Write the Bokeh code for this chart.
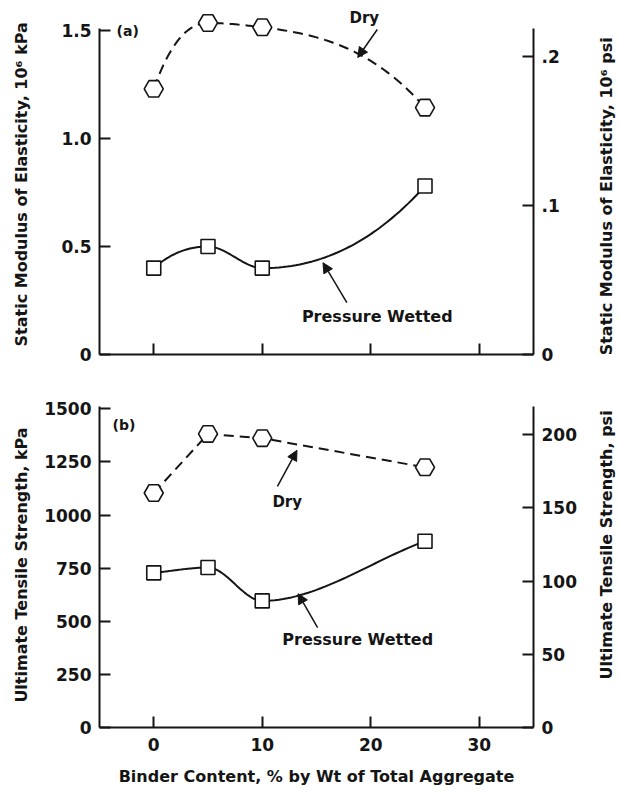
import numpy as np
from bokeh.plotting import figure
from bokeh.models import (Range1d, LinearAxis, FixedTicker, CustomJSTickFormatter,
                          Label, Arrow, NormalHead)
from bokeh.core.properties import value
from bokeh.layouts import column, row
from bokeh.embed import file_html
from bokeh.resources import INLINE

# ---------------- data ----------------
binder = [0, 5, 10, 25]                      # binder content, % by wt
mod_dry = [1.23, 1.535, 1.515, 1.143]        # 10^6 kPa, dry
mod_wet = [0.40, 0.50, 0.40, 0.78]           # 10^6 kPa, pressure wetted
ts_dry = [1104, 1382, 1362, 1225]            # kPa, dry
ts_wet = [728, 753, 596, 877]                # kPa, pressure wetted

x_ticks = [0, 10, 20, 30]
mod_ticks = [0, 0.5, 1.0, 1.5]
mod_psi_ticks = [0, 0.1, 0.2]
ts_ticks = [0, 250, 500, 750, 1000, 1250, 1500]
ts_psi_ticks = [0, 50, 100, 150, 200]
KPA_PER_PSI = 6.895

INK = "#151515"
FONT = "DejaVu Sans"


def smooth(xs, ys, end_factor=1.0, n=40):
    """Shape-preserving cubic drawn through the data points
    (zero slope at local extrema; end slope = end_factor x end secant)."""
    x = np.asarray(xs, float)
    y = np.asarray(ys, float)
    h = np.diff(x)
    d = np.diff(y) / h
    m = np.zeros_like(y)
    for k in range(1, len(x) - 1):
        if d[k - 1] * d[k] > 0:
            w1 = 2 * h[k] + h[k - 1]
            w2 = h[k] + 2 * h[k - 1]
            m[k] = (w1 + w2) / (w1 / d[k - 1] + w2 / d[k])
    m[0] = d[0] * end_factor
    m[-1] = d[-1] * end_factor
    px, py = [], []
    for k in range(len(x) - 1):
        t = np.linspace(0, 1, n)
        if k > 0:
            t = t[1:]
        h00 = 2 * t**3 - 3 * t**2 + 1
        h10 = t**3 - 2 * t**2 + t
        h01 = -2 * t**3 + 3 * t**2
        h11 = t**3 - t**2
        px.extend(x[k] + t * h[k])
        py.extend(h00 * y[k] + h10 * h[k] * m[k] + h01 * y[k + 1] + h11 * h[k] * m[k + 1])
    return px, py


def style_axis(ax, size="17px"):
    ax.axis_line_width = 2
    ax.axis_line_color = INK
    ax.major_tick_in = 11
    ax.major_tick_out = 0
    ax.major_tick_line_width = 2
    ax.major_tick_line_color = INK
    ax.minor_tick_line_color = None
    ax.major_label_text_font = FONT
    ax.major_label_text_font_style = "bold"
    ax.major_label_text_font_size = size
    ax.major_label_text_color = INK
    ax.major_label_standoff = 8
    ax.axis_label_text_font = FONT
    ax.axis_label_text_font_style = "bold"
    ax.axis_label_text_font_size = "16px"
    ax.axis_label_text_color = INK


def base_fig(width, height, yend, border_top, border_bottom):
    p = figure(width=width, height=height, x_range=Range1d(-5, 35), y_range=Range1d(0, yend),
               output_backend="svg", toolbar_location=None,
               min_border_left=99, min_border_right=width - 533,
               min_border_top=border_top, min_border_bottom=border_bottom,
               x_axis_type=None, y_axis_type=None)
    p.outline_line_color = None
    p.background_fill_color = "white"
    p.border_fill_color = "white"
    return p


def side_title(width, height, y_from_top, s, x):
    t = figure(width=width, height=height, x_range=Range1d(0, width), y_range=Range1d(0, height),
               output_backend="svg", toolbar_location=None, min_border=0,
               x_axis_type=None, y_axis_type=None)
    t.outline_line_color = None
    t.text(x=[x], y=[height - y_from_top], text=[s], angle=np.pi / 2,
           text_font=value(FONT), text_font_style="bold", text_font_size="16px",
           text_align="center", text_baseline="middle", text_color=INK)
    return t


def text(p, x, y, s, size="16px"):
    p.add_layout(Label(x=x, y=y, text=s, text_font=FONT, text_font_style="bold",
                       text_font_size=size, text_color=INK, text_align="center",
                       text_baseline="middle"))


def arrow(p, x0, y0, x1, y1):
    p.add_layout(Arrow(end=NormalHead(size=10, fill_color=INK, line_color=INK),
                       x_start=x0, y_start=y0, x_end=x1, y_end=y1,
                       line_width=1.5, line_color=INK))


MAIN_W = 590
SIDE_W = 619 - MAIN_W

# ---------------- (a) modulus ----------------
TOP_END = 1.602
p1 = base_fig(MAIN_W, 374, TOP_END, 8, 20)
p1.extra_y_ranges = {"psi": Range1d(0, TOP_END / KPA_PER_PSI)}

xa = LinearAxis(ticker=FixedTicker(ticks=x_ticks),
                formatter=CustomJSTickFormatter(code="return '';"))
style_axis(xa, "10px")
xa.major_label_standoff = 0
p1.add_layout(xa, "below")
ya = LinearAxis(ticker=FixedTicker(ticks=mod_ticks), bounds=(0, 1.51),
                formatter=CustomJSTickFormatter(code="return tick == 0 ? '0' : tick.toFixed(1);"),
                axis_label="Static Modulus of Elasticity,  10⁶ kPa")
style_axis(ya)
ya.axis_label_standoff = 27
p1.add_layout(ya, "left")
yr = LinearAxis(y_range_name="psi", ticker=FixedTicker(ticks=mod_psi_ticks),
                bounds=(0, 1.51 / KPA_PER_PSI),
                formatter=CustomJSTickFormatter(code="return tick == 0 ? '0' : tick.toFixed(1).replace(/^0/, '');"))
style_axis(yr)
p1.add_layout(yr, "right")

dx, dy = smooth(binder, mod_dry, end_factor=2.3)
p1.line(dx, dy, line_color=INK, line_width=2, line_dash="10 6")
wx, wy = smooth(binder, mod_wet, end_factor=2.2)
p1.line(wx, wy, line_color=INK, line_width=2)
p1.hex(binder, mod_dry, size=19, fill_color="white", line_color=INK, line_width=1.6)
p1.square(binder, mod_wet, size=14, fill_color="white", line_color=INK, line_width=1.6)

text(p1, -2.4, 1.497, "(a)", "14px")
text(p1, 19.4, 1.556, "Dry", "15px")
arrow(p1, 20.6, 1.505, 18.8, 1.375)
text(p1, 20.6, 0.176, "Pressure Wetted", "16px")
arrow(p1, 17.8, 0.24, 15.6, 0.425)

t1 = side_title(SIDE_W, 374, 200, "Static Modulus of Elasticity,  10⁶ psi", 16)

# ---------------- (b) tensile strength ----------------
BOT_END = 1530
p2 = base_fig(MAIN_W, 420, BOT_END, 28, 67)
p2.extra_y_ranges = {"psi": Range1d(0, BOT_END / KPA_PER_PSI)}

xb = LinearAxis(ticker=FixedTicker(ticks=x_ticks),
                axis_label="Binder Content, % by Wt of Total Aggregate")
style_axis(xb)
xb.major_label_standoff = 10
xb.axis_label_standoff = 13
p2.add_layout(xb, "below")
yb = LinearAxis(ticker=FixedTicker(ticks=ts_ticks), bounds=(0, 1510),
                axis_label="Ultimate Tensile Strength, kPa")
style_axis(yb)
yb.axis_label_standoff = 10
p2.add_layout(yb, "left")
yb2 = LinearAxis(y_range_name="psi", ticker=FixedTicker(ticks=ts_psi_ticks),
                 bounds=(0, 1510 / KPA_PER_PSI))
style_axis(yb2)
p2.add_layout(yb2, "right")

p2.line(binder, ts_dry, line_color=INK, line_width=2, line_dash="10 6")
bx, by = smooth(binder, ts_wet, end_factor=1.0)
p2.line(bx, by, line_color=INK, line_width=2)
p2.hex(binder, ts_dry, size=19, fill_color="white", line_color=INK, line_width=1.6)
p2.square(binder, ts_wet, size=14, fill_color="white", line_color=INK, line_width=1.6)

text(p2, -2.75, 1425, "(b)", "14px")
text(p2, 12.3, 1061, "Dry", "15px")
arrow(p2, 11.4, 1135, 13.2, 1305)
text(p2, 18.8, 415, "Pressure Wetted", "16px")
arrow(p2, 15.1, 470, 13.3, 630)

t2 = side_title(SIDE_W, 420, 184, "Ultimate Tensile Strength, psi", 16)

layout = column(row(p1, t1, spacing=0), row(p2, t2, spacing=0), spacing=0)
open("out.html", "w").write(file_html(layout, INLINE))
